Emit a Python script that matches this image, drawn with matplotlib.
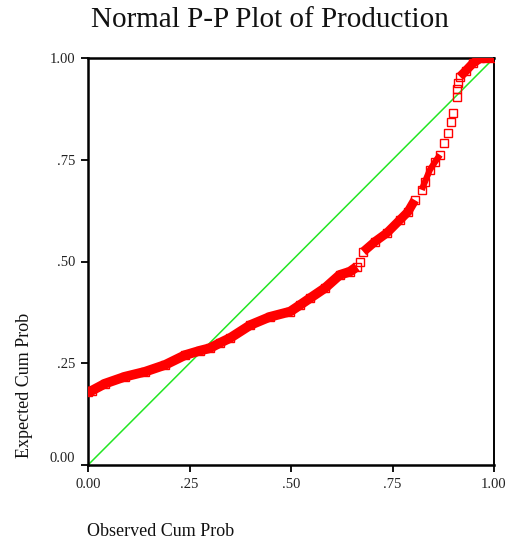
import matplotlib
matplotlib.use("Agg")
import matplotlib.pyplot as plt

# Observed cumulative probability (x) and expected cumulative probability (y)
observed = [0.000, 0.010, 0.042, 0.091, 0.140, 0.190, 0.239, 0.276, 0.300,
            0.325, 0.350, 0.400, 0.448, 0.498, 0.522, 0.547, 0.584, 0.620,
            0.645, 0.662, 0.670, 0.678, 0.707, 0.736, 0.768, 0.788, 0.805,
            0.822, 0.830, 0.842, 0.855, 0.867, 0.878, 0.887, 0.893, 0.900,
            0.908, 0.908, 0.912, 0.916, 0.930, 0.948, 0.966, 0.980, 1.000]
expected = [0.180, 0.183, 0.200, 0.217, 0.229, 0.246, 0.270, 0.281, 0.287,
            0.300, 0.312, 0.344, 0.364, 0.377, 0.393, 0.410, 0.435, 0.467,
            0.475, 0.487, 0.500, 0.524, 0.549, 0.570, 0.602, 0.622, 0.651,
            0.676, 0.696, 0.725, 0.745, 0.762, 0.790, 0.815, 0.843, 0.864,
            0.905, 0.923, 0.938, 0.954, 0.968, 0.987, 0.999, 1.000, 1.000]

tick_vals = [0.0, 0.25, 0.5, 0.75, 1.0]
tick_labels = ["0.00", ".25", ".50", ".75", "1.00"]

serif = ["Liberation Serif", "DejaVu Serif"]

fig = plt.figure(figsize=(5.09, 5.44), dpi=100)
ax = fig.add_axes([88/509, 1-465/544, (494-88)/509, (465-58)/544])

# reference diagonal
ax.plot([0, 1], [0, 1], color="#22e622", lw=1.1, zorder=2)

# dense segments drawn as thick band (overlapping markers)
for a, b, w in [(0, 20, 7.0), (21, 27, 6.5), (27, 32, 4.5), (39, 45, 6.5)]:
    ax.plot(observed[a:b], expected[a:b], color="red", lw=w,
            solid_capstyle="butt", zorder=3)

ax.plot(observed, expected, linestyle="none", marker="s", ms=5.6,
        mfc="none", mec="red", mew=1.0, zorder=4)

ax.set_xlim(0, 1)
ax.set_ylim(0, 1)
ax.set_xticks(tick_vals)
ax.set_xticklabels(tick_labels)
ax.set_yticks(tick_vals)
ax.set_yticklabels(tick_labels)
ax.tick_params(axis="both", direction="out", length=5, width=1.3, pad=4,
               labelsize=10.5, top=False, right=False)
for lab in ax.get_xticklabels() + ax.get_yticklabels():
    lab.set_fontfamily(serif)
    lab.set_color("#222222")
ylabs = ax.get_yticklabels()
ylabs[0].set_va("bottom")

for side in ["left", "bottom", "top"]:
    ax.spines[side].set_linewidth(1.8)
ax.spines["right"].set_linewidth(1.4)

fig.text(270/509, 1-20/544, "Normal P-P Plot of Production", ha="center",
         va="center", fontsize=21, family=serif, color="#111111")
fig.text(87/509, 1-532/544, "Observed Cum Prob", ha="left", va="center",
         fontsize=13, family=serif, color="#111111")
fig.text(25/509, 1-458/544, "Expected Cum Prob", ha="center", va="bottom",
         rotation=90, fontsize=13, family=serif, color="#111111")

fig.savefig("out.png", dpi=100)
